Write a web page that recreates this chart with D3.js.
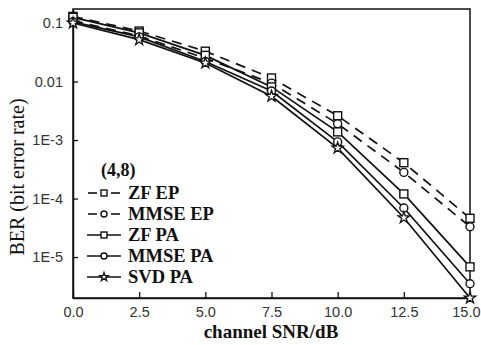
<!DOCTYPE html>
<html><head><meta charset="utf-8">
<script src="https://cdn.jsdelivr.net/npm/d3@7/dist/d3.min.js"></script>
<style>body{margin:0;background:#fff}</style>
</head><body><svg id="c" width="481" height="345"></svg>
<script>
const snr = [0, 2.5, 5, 7.5, 10, 12.5, 15];
const zfEP   = [0.13, 0.073, 0.033, 0.0115, 0.0026, 4.1e-4, 4.6e-5];
const mmseEP = [0.11, 0.060, 0.025, 0.0094, 0.0019, 2.8e-4, 3.3e-5];
const zfPA   = [0.125, 0.068, 0.028, 0.0081, 0.00138, 1.2e-4, 6.8e-6];
const mmsePA = [0.105, 0.058, 0.022, 0.0069, 0.00093, 6.9e-5, 3.5e-6];
const svdPA  = [0.10, 0.052, 0.0207, 0.0056, 0.00073, 4.7e-5, 2.0e-6];
const xTicks = [0, 2.5, 5, 7.5, 10, 12.5, 15];
const yTicks = [0.1, 0.01, 1e-3, 1e-4, 1e-5];
const yTickLabels = ["0.1", "0.01", "1E-3", "1E-4", "1E-5"];
const seriesNames = ["ZF EP", "MMSE EP", "ZF PA", "MMSE PA", "SVD PA"];
const seriesVals = [zfEP, mmseEP, zfPA, mmsePA, svdPA];
const seriesMarker = ["square", "circle", "square", "circle", "star"];
const seriesDashed = [true, true, false, false, false];

const svg = d3.select("#c");
const L = 73, R = 470, T = 9, B = 298;
const x = d3.scaleLinear().domain([0, 15]).range([L, R]);
const y = d3.scaleLog().domain([Math.pow(10, -5.70), Math.pow(10, -0.76)]).range([B, T]);
const ink = "#111";
const serif = "Liberation Serif, Times New Roman, serif";
const sans = "Liberation Sans, Arial, sans-serif";

// frame
svg.append("rect").attr("x", L).attr("y", T).attr("width", R - L).attr("height", B - T)
  .attr("fill", "none").attr("stroke", ink).attr("stroke-width", 1.5);

// axes with inward ticks
const xAx = svg.append("g").attr("transform", `translate(0,${B})`)
  .call(d3.axisBottom(x).tickValues(xTicks).tickFormat(d3.format(".1f")).tickSizeInner(-6).tickSizeOuter(0).tickPadding(9));
const yAx = svg.append("g").attr("transform", `translate(${L},0)`)
  .call(d3.axisLeft(y).tickValues(yTicks).tickFormat((d, i) => yTickLabels[i]).tickSizeInner(-5).tickSizeOuter(0).tickPadding(10));
[xAx, yAx].forEach(g => {
  g.select(".domain").attr("stroke", ink).attr("stroke-width", 1.5);
  g.selectAll(".tick line").attr("stroke", ink).attr("stroke-width", 1.3);
  g.selectAll("text").attr("font-family", sans).attr("font-size", 14.5).attr("fill", "#333");
});
// keep the last x label inside the picture
xAx.selectAll(".tick text").filter(d => d === 15).attr("text-anchor", "end").attr("x", 480 - R);

// titles
svg.append("text").attr("x", 271).attr("y", 338).attr("text-anchor", "middle")
  .attr("font-family", serif).attr("font-weight", "bold")
  .attr("font-size", 19).attr("fill", ink).text("channel SNR/dB");
svg.append("text").attr("transform", `translate(24,177) rotate(-90)`).attr("text-anchor", "middle")
  .attr("font-family", serif)
  .attr("font-size", 20).attr("fill", ink).text("BER (bit error rate)");

function drawMarker(g, type, cx, cy, s) {
  s = s || 1;
  if (type === "square") {
    g.append("rect").attr("x", cx - 4 * s).attr("y", cy - 4 * s).attr("width", 8 * s).attr("height", 8 * s)
      .attr("fill", "#fff").attr("stroke", ink).attr("stroke-width", 1.4);
  } else if (type === "circle") {
    g.append("circle").attr("cx", cx).attr("cy", cy).attr("r", 4 * s)
      .attr("fill", "#fff").attr("stroke", ink).attr("stroke-width", 1.4);
  } else {
    g.append("path").attr("d", d3.symbol().type(d3.symbolStar).size(40 * s * s)())
      .attr("transform", `translate(${cx},${cy})`)
      .attr("fill", "#fff").attr("stroke", ink).attr("stroke-width", 1.3);
  }
}

const line = d3.line().x((d, i) => x(snr[i])).y(d => y(d));
seriesVals.forEach((vals, k) => {
  svg.append("path").datum(vals).attr("d", line).attr("fill", "none").attr("stroke", ink)
    .attr("stroke-width", 1.7).attr("stroke-dasharray", seriesDashed[k] ? "10,7" : null);
});
seriesVals.forEach((vals, k) => {
  const g = svg.append("g");
  vals.forEach((v, i) => drawMarker(g, seriesMarker[k], x(snr[i]), y(v)));
});

// legend
const lg = svg.append("g");
lg.append("text").attr("x", 101).attr("y", 176).attr("font-family", serif)
  .attr("font-weight", "bold").attr("font-size", 18).attr("fill", ink).text("(4,8)");
seriesNames.forEach((name, k) => {
  const cy = 193 + k * 21;
  if (seriesDashed[k]) {
    lg.append("line").attr("x1", 88).attr("x2", 97).attr("y1", cy).attr("y2", cy).attr("stroke", ink).attr("stroke-width", 1.6);
    lg.append("line").attr("x1", 111).attr("x2", 120).attr("y1", cy).attr("y2", cy).attr("stroke", ink).attr("stroke-width", 1.6);
  } else {
    lg.append("line").attr("x1", 87).attr("x2", 121).attr("y1", cy).attr("y2", cy).attr("stroke", ink).attr("stroke-width", 1.7);
  }
  drawMarker(lg, seriesMarker[k], 104, cy, 0.75);
  lg.append("text").attr("x", 128).attr("y", cy + 6).attr("font-family", serif)
    .attr("font-weight", "bold").attr("font-size", 18.5).attr("fill", ink).text(name);
});
</script></body></html>
